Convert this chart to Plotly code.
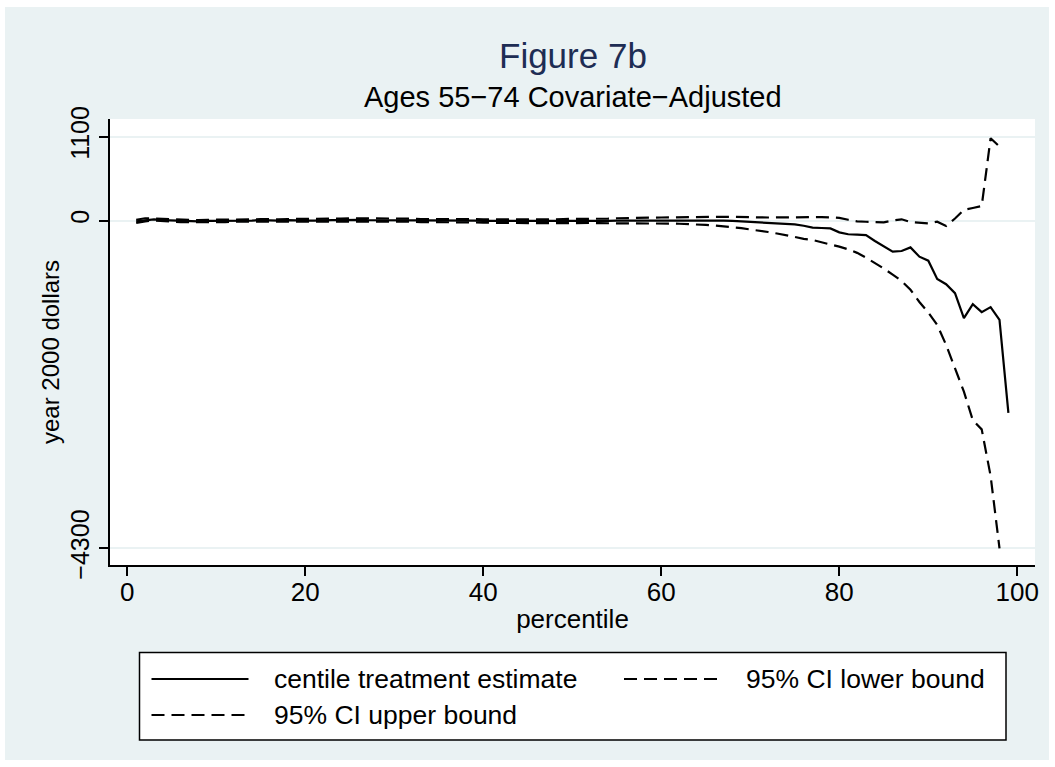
import plotly.graph_objects as go

# ---- data: centile treatment effects, ages 55-74, covariate-adjusted ----
percentile = list(range(1, 100))

estimate = [
    -10, 5, 15, 5, 0, -5, -5, -10, -5, -5,
    -5, 0, 0, 0, 5, 0, 0, 5, 0, 0,
    0, 5, 5, 5, 10, 10, 5, 5, 5, 5,
    5, 5, 0, 0, 5, 0, 0, 0, 0, -5,
    -5, -5, -10, -10, -10, -10, -10, -10, -5, -5,
    -5, -5, -5, -5, 0, 0, 0, 0, 0, 0,
    5, 5, 5, 5, 5, 5, 0, -5, -12, -20,
    -24, -28, -33, -42, -50, -68, -92, -98, -103, -155,
    -180, -186, -192, -268, -335, -408, -400, -352, -474, -527,
    -766, -835, -953, -1280, -1097, -1202, -1136, -1302, -2524,
]

ci_upper = [
    10, 30, 25, 20, 15, 10, 10, 5, 10, 10,
    10, 15, 15, 15, 20, 15, 15, 20, 20, 20,
    20, 25, 25, 25, 30, 30, 25, 25, 25, 25,
    25, 25, 20, 20, 25, 20, 20, 20, 20, 15,
    15, 15, 10, 10, 10, 10, 12, 15, 20, 20,
    20, 22, 25, 25, 30, 30, 32, 35, 38, 40,
    40, 42, 42, 45, 45, 48, 50, 50, 48, 45,
    42, 40, 42, 45, 48, 50, 48, 45, 42, 35,
    10, -10, -16, -20, -24, 0, 16, -20, -30, -37,
    -16, -72, 27, 140, 165, 190, 1080, 970, None,
]

ci_lower = [
    -30, -10, 0, -10, -15, -20, -20, -25, -20, -20,
    -20, -15, -15, -15, -12, -15, -15, -10, -15, -15,
    -15, -12, -10, -10, -8, -8, -12, -12, -12, -15,
    -15, -15, -20, -20, -18, -20, -22, -22, -25, -28,
    -30, -32, -35, -35, -35, -35, -35, -35, -32, -32,
    -32, -32, -35, -35, -32, -32, -35, -35, -35, -38,
    -40, -42, -45, -50, -58, -66, -75, -85, -100, -118,
    -130, -150, -170, -188, -215, -240, -255, -285, -310, -343,
    -378, -424, -486, -555, -630, -710, -793, -908, -1068, -1207,
    -1370, -1632, -1944, -2244, -2620, -2740, -3350, -4300, None,
]

y_tick_values = [-4300, 0, 1100]
y_tick_labels = ["\u22124300", "0", "1100"]
x_tick_values = [0, 20, 40, 60, 80, 100]

# ---- page geometry (pixels) ----
W, H = 1055, 767
PLOT_L, PLOT_R, PLOT_T, PLOT_B = 110, 1035, 119, 565
FONT = "Liberation Sans, Arial, Helvetica, sans-serif"
BG = "#EAF2F3"
NAVY = "#1E2D54"
DASH = "13px,7px"
LINE_W = 2.2


def px_x(x):
    return (x - PLOT_L) / (PLOT_R - PLOT_L)


def px_y(y):
    return (PLOT_B - y) / (PLOT_B - PLOT_T)


fig = go.Figure()

fig.add_trace(go.Scatter(
    x=percentile, y=estimate, mode="lines", name="centile treatment estimate",
    line=dict(color="black", width=LINE_W), showlegend=False,
))
fig.add_trace(go.Scatter(
    x=percentile, y=ci_lower, mode="lines", name="95% CI lower bound",
    line=dict(color="black", width=LINE_W, dash=DASH), showlegend=False,
))
fig.add_trace(go.Scatter(
    x=percentile, y=ci_upper, mode="lines", name="95% CI upper bound",
    line=dict(color="black", width=LINE_W, dash=DASH), showlegend=False,
))

shapes = [
    # outer graph region
    dict(type="rect", xref="paper", yref="paper", layer="below",
         x0=px_x(5), x1=px_x(1049), y0=px_y(760), y1=px_y(7),
         fillcolor=BG, line=dict(width=0)),
    # plot region
    dict(type="rect", xref="paper", yref="paper", layer="below",
         x0=0, x1=1, y0=0, y1=1, fillcolor="white", line=dict(width=0)),
    # legend box
    dict(type="rect", xref="paper", yref="paper", layer="above",
         x0=px_x(139.5), x1=px_x(1006), y0=px_y(740), y1=px_y(652.5),
         fillcolor="white", line=dict(color="black", width=1.5)),
]

annotations = [
    dict(text="Figure 7b", x=0.5, y=px_y(56), xref="paper", yref="paper",
         xanchor="center", yanchor="middle", showarrow=False,
         font=dict(family=FONT, size=35, color=NAVY)),
    dict(text="Ages 55\u221274 Covariate\u2212Adjusted", x=0.5, y=px_y(97),
         xref="paper", yref="paper", xanchor="center", yanchor="middle",
         showarrow=False, font=dict(family=FONT, size=29, color="black")),
    dict(text="year 2000 dollars", x=px_x(50), y=px_y(352), xref="paper",
         yref="paper", xanchor="center", yanchor="middle", textangle=-90,
         showarrow=False, font=dict(family=FONT, size=24, color="black")),
]

# legend entries: (sample x0, sample x1, text x, row y, dash, label)
legend_rows = [
    (151.5, 248.5, 272, 679, None, "centile treatment estimate"),
    (624, 721, 744, 679, DASH, "95% CI lower bound"),
    (151.5, 248.5, 272, 715, DASH, "95% CI upper bound"),
]
for sx0, sx1, tx, ry, dash, label in legend_rows:
    ln = dict(color="black", width=LINE_W)
    if dash:
        ln["dash"] = dash
    shapes.append(dict(type="line", xref="paper", yref="paper", layer="above",
                       x0=px_x(sx0), x1=px_x(sx1), y0=px_y(ry), y1=px_y(ry),
                       line=ln))
    annotations.append(dict(text=label, x=px_x(tx), y=px_y(ry), xref="paper",
                            yref="paper", xanchor="left", yanchor="middle",
                            showarrow=False,
                            font=dict(family=FONT, size=26.5, color="black")))

x_per_unit = 8.9
x_zero_px = 127.3
y_per_unit = 0.076222
y_zero_px = 220.54

fig.update_layout(
    width=W, height=H, autosize=False,
    margin=dict(l=PLOT_L, r=W - PLOT_R, t=PLOT_T, b=H - PLOT_B, pad=0),
    paper_bgcolor="white", plot_bgcolor="white",
    font=dict(family=FONT, color="black"),
    shapes=shapes, annotations=annotations, showlegend=False,
    xaxis=dict(
        range=[(PLOT_L - x_zero_px) / x_per_unit, (PLOT_R - x_zero_px) / x_per_unit],
        tickvals=x_tick_values, ticks="outside", ticklen=9, tickwidth=1.5,
        tickcolor="black", showline=True, linecolor="black", linewidth=1.5,
        showgrid=False, zeroline=False, tickfont=dict(size=26),
        ticklabelstandoff=-6,
        title=dict(text="percentile", font=dict(size=26), standoff=4),
    ),
    yaxis=dict(
        range=[-(PLOT_B - y_zero_px) / y_per_unit, (y_zero_px - PLOT_T) / y_per_unit],
        tickvals=y_tick_values, ticktext=y_tick_labels, tickangle=-90,
        ticks="outside", ticklen=9, tickwidth=1.5, tickcolor="black",
        showline=True, linecolor="black", linewidth=1.5,
        showgrid=True, gridcolor=BG, gridwidth=2, zeroline=False,
        tickfont=dict(size=25),
    ),
)

fig.write_html("out.html")
